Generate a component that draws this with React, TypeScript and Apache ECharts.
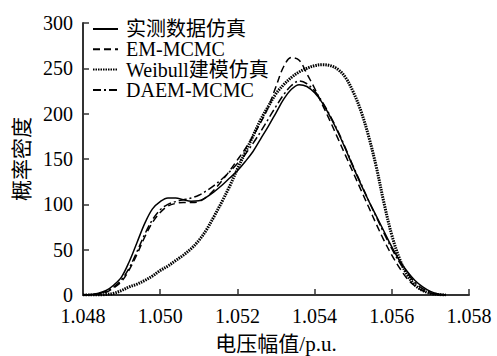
import React, { useEffect, useRef } from "react";
import * as echarts from "echarts";

const xs = [
  1.048, 1.0482, 1.0484, 1.0486, 1.0488, 1.049, 1.0492, 1.0494, 1.0496, 1.0498,
  1.05, 1.0502, 1.0504, 1.0506, 1.0508, 1.051, 1.0512, 1.0514, 1.0516, 1.0518,
  1.052, 1.0522, 1.0524, 1.0526, 1.0528, 1.053, 1.0532, 1.0534, 1.0536, 1.0538,
  1.054, 1.0542, 1.0544, 1.0546, 1.0548, 1.055, 1.0552, 1.0554, 1.0556, 1.0558,
  1.056, 1.0562, 1.0564, 1.0566, 1.0568, 1.057, 1.0572, 1.0574,
];

const measured = [
  0, 0.5, 2, 5, 11, 20, 37, 58, 79, 95,
  103, 107, 107, 105, 103.5, 104, 108, 114, 121, 129,
  137, 147, 158, 172, 186, 201, 216, 227, 232, 230,
  223, 212, 197, 180, 161, 141, 122, 104, 87, 70,
  53, 38, 26, 16, 9, 4, 1, 0,
];

const emMcmc = [
  0, 0.3, 1, 3, 8, 15, 28, 45, 64, 80,
  91, 98, 101, 102, 102, 103, 108, 116, 126, 137,
  149, 161, 175, 190, 207, 230, 252, 262, 259, 244,
  228, 210, 192, 173, 154, 135, 116, 97, 78, 60,
  44, 30, 18, 10, 5, 2, 0.5, 0,
];

const weibull = [
  0, 0, 0, 0.5, 2, 5, 9, 12, 16, 21,
  27, 32, 38, 44, 51, 60, 72, 87, 103, 120,
  139, 157, 175, 193, 208, 222, 232, 240, 246, 250,
  253, 254, 253, 249, 240, 224, 203, 175, 141, 101,
  66, 40, 22, 11, 5, 2, 0.5, 0,
];

const daemMcmc = [
  0, 0.4, 1.5, 4, 9, 17, 30, 48, 67, 83,
  94, 100, 103, 105, 107, 110, 115, 121, 128, 136,
  145, 155, 167, 180, 194, 208, 221, 231, 236, 233,
  225, 213, 198, 181, 162, 142, 123, 104, 86, 68,
  51, 36, 24, 14, 7, 3, 0.5, 0,
];

const seriesNames = ["实测数据仿真", "EM-MCMC", "Weibull建模仿真", "DAEM-MCMC"];
const xTicks = { min: 1.048, max: 1.058, interval: 0.002 };
const yTicks = { min: 0, max: 300, interval: 50 };

const FONT = "'Liberation Serif', 'Times New Roman', 'Noto Sans CJK SC', serif";

export default function App() {
  const ref = useRef<HTMLDivElement>(null);
  useEffect(() => {
    if (!ref.current) return;
    const chart = echarts.init(ref.current, null, { renderer: "svg" });
    const pair = (arr: number[]) => xs.map((x, i) => [x, arr[i]]);
    const mk = (name: string, arr: number[], lineStyle: any) => ({
      name,
      type: "line",
      data: pair(arr),
      smooth: 0.35,
      symbol: "none",
      symbolSize: 0,
      showSymbol: false,
      lineStyle: { color: "#000", ...lineStyle },
      itemStyle: { color: "#000" },
    });
    chart.setOption({
      animation: false,
      backgroundColor: "#fff",
      grid: { left: 83, right: 28, top: 23, bottom: 61, outerBoundsMode: "none", containLabel: false },
      legend: {
        orient: "vertical",
        left: 87,
        top: 14,
        itemWidth: 25,
        itemHeight: 12,
        itemGap: 0.3,
        itemStyle: { opacity: 0 },
        textStyle: {
          fontFamily: FONT,
          fontSize: 20,
          lineHeight: 20,
          color: "#000",
          padding: [0, 0, 0, 3],
        },
        data: seriesNames,
      },
      xAxis: {
        type: "value",
        min: xTicks.min,
        max: xTicks.max,
        interval: xTicks.interval,
        name: "电压幅值/p.u.",
        nameLocation: "middle",
        nameGap: 38,
        nameTextStyle: { fontFamily: FONT, fontSize: 21, color: "#000" },
        axisLine: { lineStyle: { color: "#333", width: 2 } },
        axisTick: { inside: true, length: 6, lineStyle: { color: "#333", width: 1.5 } },
        axisLabel: {
          fontFamily: FONT,
          fontSize: 20,
          color: "#000",
          margin: 11,
          formatter: (v: number) => v.toFixed(3),
        },
        splitLine: { show: false },
      },
      yAxis: {
        type: "value",
        min: yTicks.min,
        max: yTicks.max,
        interval: yTicks.interval,
        name: "概率密度",
        nameLocation: "middle",
        nameRotate: 90,
        nameGap: 50,
        nameTextStyle: { fontFamily: FONT, fontSize: 21, color: "#000" },
        axisLine: { show: true, lineStyle: { color: "#333", width: 2 } },
        axisTick: { show: true, inside: true, length: 6, lineStyle: { color: "#333", width: 1.5 } },
        axisLabel: { fontFamily: FONT, fontSize: 20, color: "#000", margin: 10 },
        splitLine: { show: false },
      },
      series: [
        mk(seriesNames[0], measured, { width: 1.5, type: "solid" }),
        mk(seriesNames[1], emMcmc, { width: 1.5, type: [7, 4] }),
        mk(seriesNames[2], weibull, { width: 3, type: [1.5, 1] }),
        mk(seriesNames[3], daemMcmc, { width: 1.5, type: [8, 3, 2, 3] }),
      ],
    });
    return () => chart.dispose();
  }, []);
  return (
    <div
      ref={ref}
      style={{ position: "absolute", left: 0, top: 0, width: 497, height: 356 }}
    />
  );
}
